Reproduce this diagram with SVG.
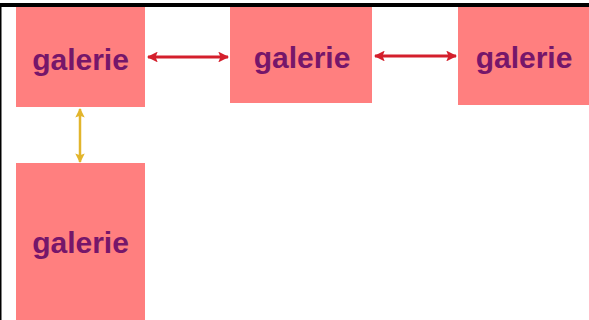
<svg xmlns="http://www.w3.org/2000/svg" width="589" height="320" viewBox="0 0 589 320">
<defs>
<style>
.box{fill:#ff7f7f}
.lbl{font-family:"Liberation Sans",Arial,sans-serif;font-weight:bold;font-size:30px;fill:#76166a;text-anchor:middle}
.red{stroke:#d41f2c;stroke-width:3;fill:none}
.yel{stroke:#e2b52c;stroke-width:2.5;fill:none}
</style>
<marker id="ar" viewBox="0 0 10 10" refX="9" refY="5" markerWidth="3.6" markerHeight="3.6" orient="auto-start-reverse" markerUnits="strokeWidth"><path d="M0,0 L10,5 L0,10 L2,5 Z" fill="#d41f2c"/></marker>
<marker id="ay" viewBox="0 0 10 10" refX="9" refY="5" markerWidth="3.8" markerHeight="3.8" orient="auto-start-reverse" markerUnits="strokeWidth"><path d="M0,0 L10,5 L0,10 L2,5 Z" fill="#e2b52c"/></marker>
</defs>
<rect width="589" height="320" fill="#fff"/>
<rect x="0" y="3" width="589" height="4" fill="#000"/>
<rect x="0" y="7" width="1.5" height="313" fill="#000"/>
<g id="node1"><rect class="box" x="16" y="7" width="129" height="100"/><text class="lbl" x="80.5" y="70">galerie</text></g>
<g id="node2"><rect class="box" x="230" y="7" width="142" height="96"/><text class="lbl" x="302" y="68">galerie</text></g>
<g id="node3"><rect class="box" x="458" y="7" width="131" height="98"/><text class="lbl" x="524" y="68">galerie</text></g>
<g id="node4"><rect class="box" x="16" y="163" width="129" height="157"/><text class="lbl" x="80.5" y="253">galerie</text></g>
<g id="connectors">
<line class="red" x1="148" y1="57" x2="228" y2="57" marker-start="url(#ar)" marker-end="url(#ar)"/>
<line class="red" x1="375" y1="56" x2="456" y2="56" marker-start="url(#ar)" marker-end="url(#ar)"/>
<line class="yel" x1="80" y1="109" x2="80" y2="162" marker-start="url(#ay)" marker-end="url(#ay)"/>
</g>
</svg>
